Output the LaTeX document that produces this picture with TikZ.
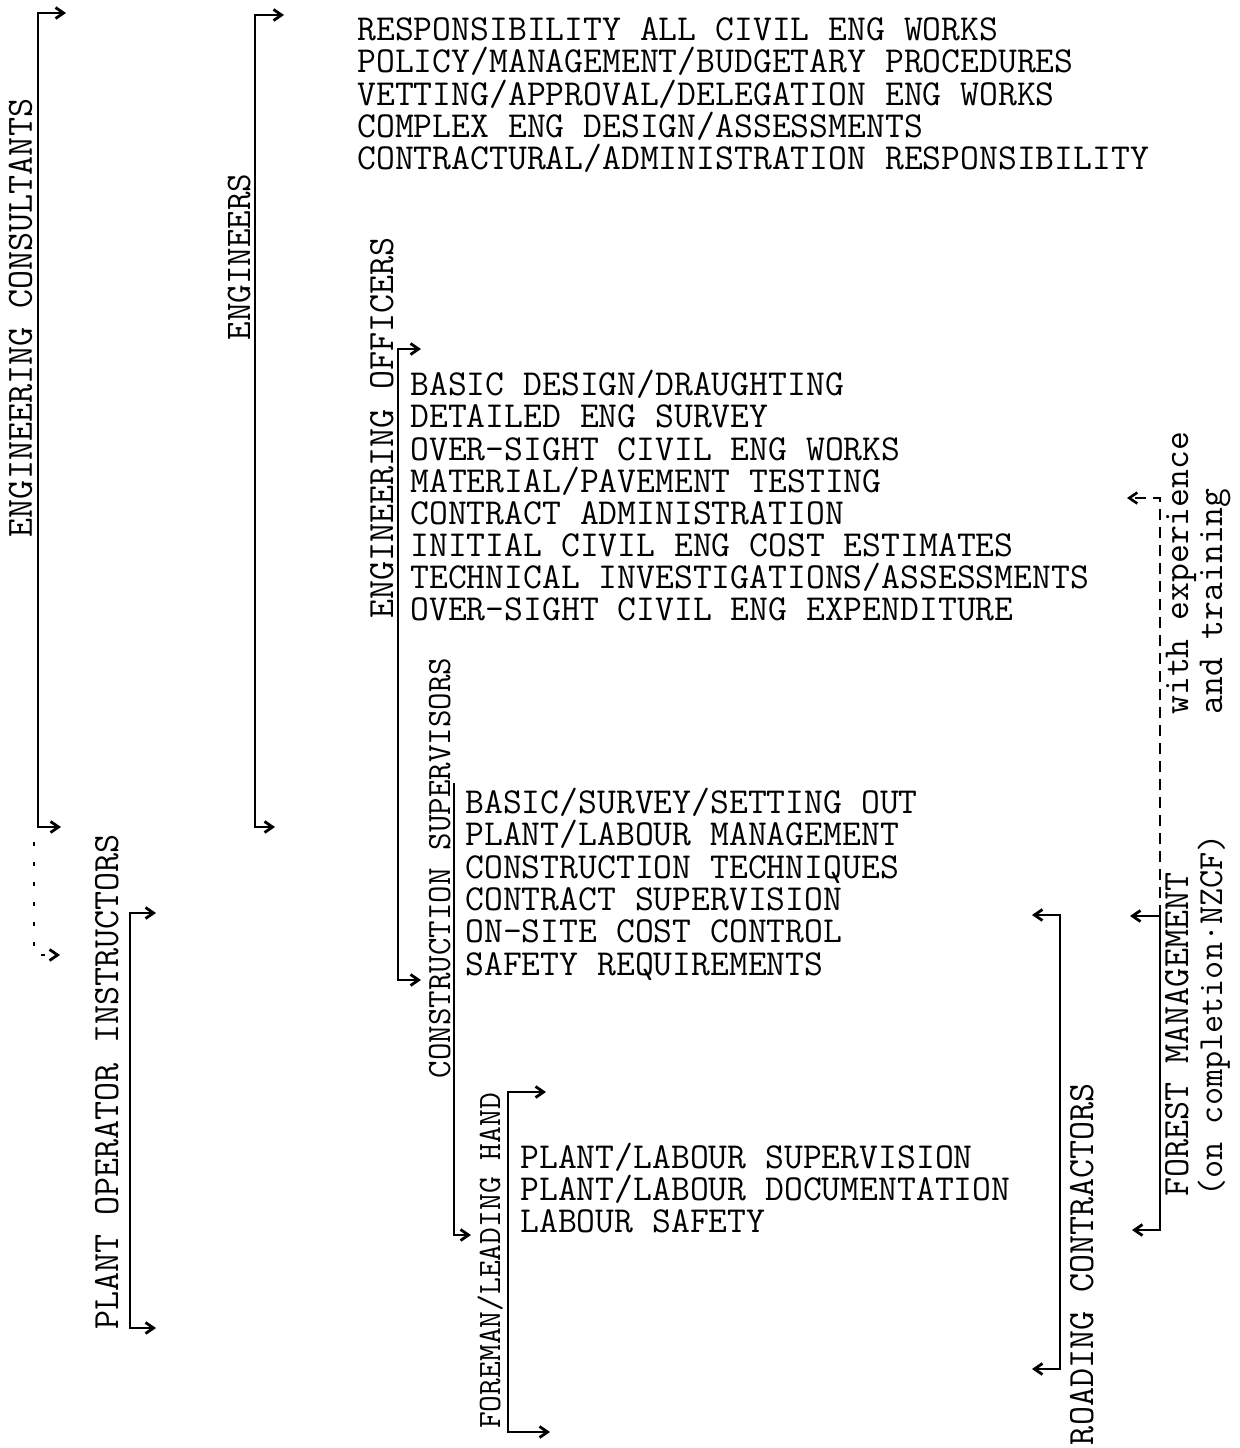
\documentclass[tikz,border=0pt]{standalone}
\usepackage{fontspec}
\usetikzlibrary{arrows.meta}
\newcommand\twfont[1]{\ttfamily\fontsize{#1}{20}\selectfont\addfontfeatures{FakeBold=1.6}}
\begin{document}
\begin{tikzpicture}[x=0.5pt,y=-0.5pt,
  txt/.style={font=\twfont{18.3}, anchor=base west, inner sep=0pt, text depth=0pt, text height=12pt},
  lbl/.style={font=\twfont{#1}, rotate=90, inner sep=0pt, text depth=0pt, text height=12pt},
  lbl/.default=18.3,
  tipb/.tip={Straight Barb[length=4pt,width=5.5pt]},
  brk/.style={line width=1.4pt, tipb-tipb},
  brkend/.style={line width=1.4pt, -tipb},
  dotb/.style={line width=1.4pt, -tipb, dash pattern=on 2pt off 8pt},
  dashb/.style={line width=1.3pt, -tipb, dash pattern=on 5.5pt off 3.5pt},
]
\useasboundingbox (0,0) rectangle (1240,1448);

% ---- rotated labels ----
\node[lbl=18.5, anchor=base] (ec) at (32,318) {ENGINEERING CONSULTANTS};
\node[lbl, anchor=base, font=\twfont{18}\addfontfeatures{LetterSpace=5}] (eng) at (250,257) {ENGINEERS};
\node[lbl=18.5, anchor=base] (eo) at (393,428) {ENGINEERING OFFICERS};
\node[lbl=17, anchor=base] (cs) at (450,868) {CONSTRUCTION SUPERVISORS};
\node[lbl=16.3, anchor=base] (fm) at (500,1261) {FOREMAN/LEADING HAND};
\node[lbl=18.5, anchor=base] (po) at (118,1082) {PLANT OPERATOR INSTRUCTORS};
\node[lbl=18.5, anchor=base] (rc) at (1093,1264) {ROADING CONTRACTORS};
\node[lbl=18.5, anchor=base west] (fmg) at (1188,1197) {FOREST MANAGEMENT};
\node[lbl=17.6, anchor=base west] (nzcf) at (1222,1197) {(on completion·NZCF)};
\node[lbl, anchor=base west] (wexp) at (1188,715) {with experience};
\node[lbl, anchor=base west] (atr) at (1222,715) {and training};

% ---- text blocks ----
\node[txt] (t1) at (357,40)  {RESPONSIBILITY ALL CIVIL ENG WORKS};
\node[txt] (t2) at (357,72)  {POLICY/MANAGEMENT/BUDGETARY PROCEDURES};
\node[txt] (t3) at (357,105) {VETTING/APPROVAL/DELEGATION ENG WORKS};
\node[txt] (t4) at (357,137) {COMPLEX ENG DESIGN/ASSESSMENTS};
\node[txt] (t5) at (357,169) {CONTRACTURAL/ADMINISTRATION RESPONSIBILITY};

\node[txt] (o1) at (410,395) {BASIC DESIGN/DRAUGHTING};
\node[txt] (o2) at (410,427) {DETAILED ENG SURVEY};
\node[txt] (o3) at (410,460) {OVER-SIGHT CIVIL ENG WORKS};
\node[txt] (o4) at (410,492) {MATERIAL/PAVEMENT TESTING};
\node[txt] (o5) at (410,524) {CONTRACT ADMINISTRATION};
\node[txt] (o6) at (410,556) {INITIAL CIVIL ENG COST ESTIMATES};
\node[txt] (o7) at (410,588) {TECHNICAL INVESTIGATIONS/ASSESSMENTS};
\node[txt] (o8) at (410,620) {OVER-SIGHT CIVIL ENG EXPENDITURE};

\node[txt] (s1) at (465,813) {BASIC/SURVEY/SETTING OUT};
\node[txt] (s2) at (465,845) {PLANT/LABOUR MANAGEMENT};
\node[txt] (s3) at (465,878) {CONSTRUCTION TECHNIQUES};
\node[txt] (s4) at (465,910) {CONTRACT SUPERVISION};
\node[txt] (s5) at (465,942) {ON-SITE COST CONTROL};
\node[txt] (s6) at (465,975) {SAFETY REQUIREMENTS};

\node[txt] (f1) at (520,1168) {PLANT/LABOUR SUPERVISION};
\node[txt] (f2) at (520,1200) {PLANT/LABOUR DOCUMENTATION};
\node[txt] (f3) at (520,1232) {LABOUR SAFETY};

% ---- brackets ----
\coordinate (ecA) at (66,13);   \coordinate (ecB) at (38,13);
\coordinate (ecC) at (38,827);  \coordinate (ecD) at (61,827);
\draw[brk] (ecA) -- (ecB) -- (ecC) -- (ecD);

\coordinate (enA) at (284,15);  \coordinate (enB) at (255,15);
\coordinate (enC) at (255,827); \coordinate (enD) at (275,827);
\draw[brk] (enA) -- (enB) -- (enC) -- (enD);

\coordinate (dtA) at (34,842);  \coordinate (dtB) at (34,955);
\coordinate (dtC) at (60,955);
\draw[dotb] (dtA) -- (dtB) -- (dtC);

\coordinate (poA) at (156,913); \coordinate (poB) at (130,913);
\coordinate (poC) at (130,1328); \coordinate (poD) at (156,1328);
\draw[brk] (poA) -- (poB) -- (poC) -- (poD);

\coordinate (eoA) at (421,349); \coordinate (eoB) at (398,349);
\coordinate (eoC) at (398,980); \coordinate (eoD) at (421,980);
\draw[brk] (eoA) -- (eoB) -- (eoC) -- (eoD);

\coordinate (csA) at (454,783); \coordinate (csB) at (454,1235);
\coordinate (csC) at (471,1235);
\draw[brkend] (csA) -- (csB) -- (csC);

\coordinate (fmA) at (546,1092); \coordinate (fmB) at (508,1092);
\coordinate (fmC) at (508,1432); \coordinate (fmD) at (550,1432);
\draw[brk] (fmA) -- (fmB) -- (fmC) -- (fmD);

\coordinate (rcA) at (1032,915); \coordinate (rcB) at (1060,915);
\coordinate (rcC) at (1060,1369); \coordinate (rcD) at (1032,1369);
\draw[brk] (rcA) -- (rcB) -- (rcC) -- (rcD);

\coordinate (fgA) at (1130,916); \coordinate (fgB) at (1160,916);
\coordinate (fgC) at (1160,1230); \coordinate (fgD) at (1132,1230);
\draw[brk] (fgA) -- (fgB) -- (fgC) -- (fgD);

\coordinate (dsA) at (1160,916); \coordinate (dsB) at (1160,498);
\coordinate (dsC) at (1127,498);
\draw[dashb] (dsA) -- (dsB) -- (dsC);
\end{tikzpicture}
\end{document}
